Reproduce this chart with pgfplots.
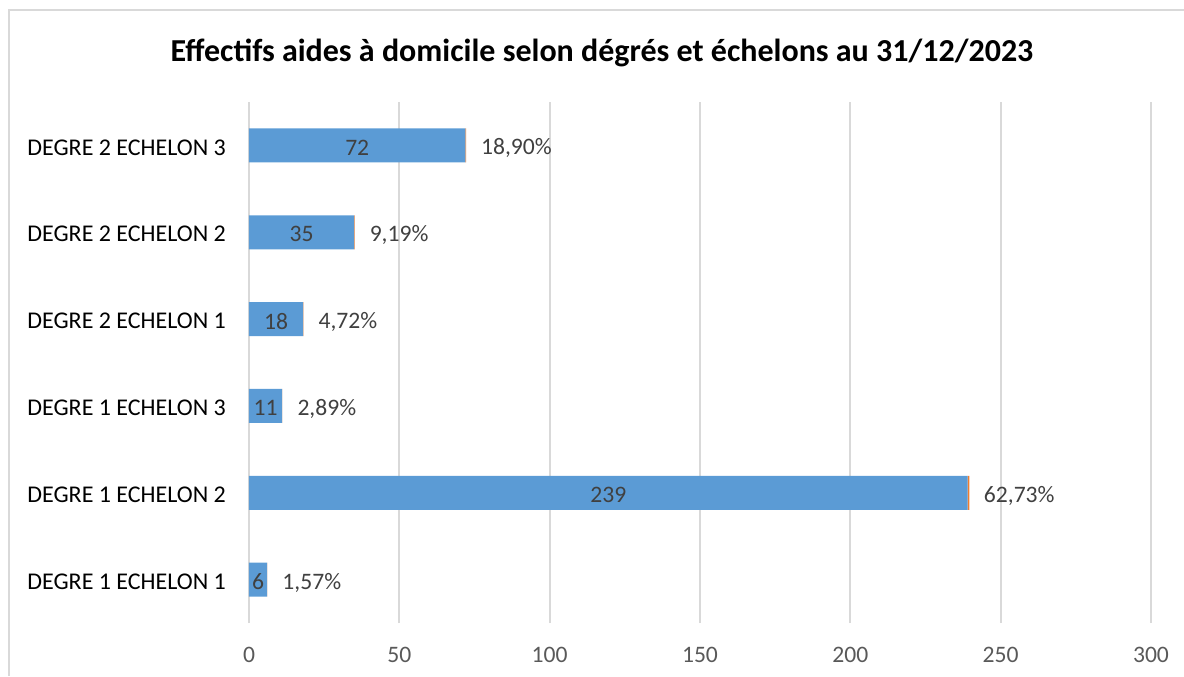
\documentclass[border=0pt]{standalone}
\usepackage{pgfplots}
\pgfplotsset{compat=1.18}
\usepackage{pgfplotstable}
\usepackage{fontspec}
\setmainfont{Carlito}
\definecolor{barblue}{RGB}{91,155,213}
\definecolor{barorange}{RGB}{237,125,49}
\definecolor{gridgray}{RGB}{217,217,217}
\definecolor{labgray}{RGB}{64,64,64}
\definecolor{tickgray}{RGB}{89,89,89}
\pgfplotstableread{
y v p lab
0 6 0.0157 1,57\%
1 239 0.6273 62,73\%
2 11 0.0289 2,89\%
3 18 0.0472 4,72\%
4 35 0.0919 9,19\%
5 72 0.1890 18,90\%
}\datatable
\begin{document}
\begin{tikzpicture}
\path[use as bounding box] (0,0) rectangle (592pt,338pt);
\draw[gridgray,line width=1pt] (4.5pt,0) -- (4.5pt,333pt) -- (592pt,333pt);
\node[font=\fontsize{16}{19}\selectfont\bfseries] at (301pt,311.5pt) {Effectifs aides à domicile selon dégrés et échelons au 31/12/2023};
\begin{axis}[
  at={(124.5pt,26.5pt)}, anchor=south west,
  scale only axis, width=451pt, height=260.5pt,
  xmin=0, xmax=300, ymin=-0.5, ymax=5.5,
  xtick={0,50,...,300},
  ytick={0,1,2,3,4,5},
  yticklabels={DEGRE 1 ECHELON 1,DEGRE 1 ECHELON 2,DEGRE 1 ECHELON 3,DEGRE 2 ECHELON 1,DEGRE 2 ECHELON 2,DEGRE 2 ECHELON 3},
  axis line style={draw=none},
  major tick length=0pt,
  xmajorgrids, grid style={gridgray,line width=1pt},
  xticklabel style={font=\fontsize{11.8}{14}\selectfont, text=tickgray, yshift=-8.5pt},
  yticklabel style={font=\fontsize{12}{14}\selectfont, text=black, xshift=-8pt, yshift=-1pt},
  /pgf/number format/assume math mode=true,
  xbar stacked, bar width=17pt,
  clip=false,
]
\addplot[fill=barblue, draw=none] table[x=v, y=y] {\datatable};
\addplot[fill=barorange, draw=none,
  nodes near coords, point meta=explicit symbolic,
  every node near coord/.append style={font=\fontsize{11.8}{14}\selectfont, text=labgray, anchor=west, inner sep=0pt, xshift=7.5pt, yshift=-1.5pt}]
  table[x=p, y=y, meta=lab] {\datatable};
\end{axis}
\begin{axis}[
  at={(124.5pt,26.5pt)}, anchor=south west,
  scale only axis, width=451pt, height=260.5pt,
  xmin=0, xmax=300, ymin=-0.5, ymax=5.5,
  hide axis, clip=false,
]
\addplot[draw=none, mark=none, nodes near coords, point meta=explicit symbolic,
  every node near coord/.append style={font=\fontsize{11.8}{14}\selectfont, text=labgray, anchor=center, inner sep=0pt, yshift=-1pt}]
  table[x expr=\thisrow{v}/2, y=y, meta=v] {\datatable};
\end{axis}
\end{tikzpicture}
\end{document}
